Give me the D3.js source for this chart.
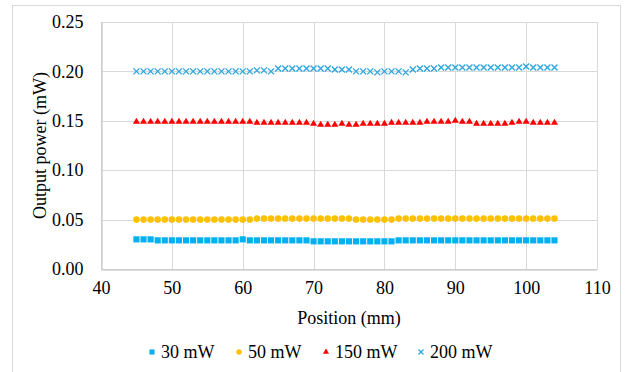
<!DOCTYPE html>
<html>
<head>
  <meta charset="utf-8">
  <script src="https://d3js.org/d3.v7.min.js"></script>
  <style>
    body { margin: 0; background: #fff; }
    svg { font-family: "Liberation Serif", "Times New Roman", serif; }
  </style>
</head>
<body>
<script>
  // positions along the fibre (mm)
  var positions = [45,46,47,48,49,50,51,52,53,54,55,56,57,58,59,60,61,62,63,64,
                   65,66,67,68,69,70,71,72,73,74,75,76,77,78,79,80,81,82,83,84,
                   85,86,87,88,89,90,91,92,93,94,95,96,97,98,99,100,101,102,103,104];

  // output power (mW) for each input power
  var p30 = [0.030,0.030,0.030,0.029,0.029,0.029,0.029,0.029,0.029,0.029,
             0.029,0.029,0.029,0.029,0.029,0.030,0.029,0.029,0.029,0.029,
             0.029,0.029,0.029,0.029,0.029,0.028,0.028,0.028,0.028,0.028,
             0.028,0.028,0.028,0.028,0.028,0.028,0.028,0.029,0.029,0.029,
             0.029,0.029,0.029,0.029,0.029,0.029,0.029,0.029,0.029,0.029,
             0.029,0.029,0.029,0.029,0.029,0.029,0.029,0.029,0.029,0.029];
  var p50 = [0.050,0.050,0.050,0.050,0.050,0.050,0.050,0.050,0.050,0.050,
             0.050,0.050,0.050,0.050,0.050,0.050,0.050,0.051,0.051,0.051,
             0.051,0.051,0.051,0.051,0.051,0.051,0.051,0.051,0.051,0.051,
             0.051,0.050,0.050,0.050,0.050,0.050,0.050,0.051,0.051,0.051,
             0.051,0.051,0.051,0.051,0.051,0.051,0.051,0.051,0.051,0.051,
             0.051,0.051,0.051,0.051,0.051,0.051,0.051,0.051,0.051,0.051];
  var p150 = [0.149,0.149,0.149,0.149,0.149,0.149,0.149,0.149,0.149,0.149,
              0.149,0.149,0.149,0.149,0.149,0.149,0.149,0.148,0.148,0.148,
              0.148,0.148,0.148,0.148,0.148,0.147,0.146,0.146,0.146,0.147,
              0.146,0.146,0.147,0.147,0.147,0.147,0.148,0.148,0.148,0.148,
              0.148,0.149,0.149,0.149,0.149,0.150,0.149,0.149,0.147,0.147,
              0.147,0.147,0.147,0.148,0.149,0.149,0.148,0.148,0.148,0.148];
  var p200 = [0.200,0.200,0.200,0.200,0.200,0.200,0.200,0.200,0.200,0.200,
              0.200,0.200,0.200,0.200,0.200,0.200,0.200,0.201,0.201,0.200,
              0.203,0.203,0.203,0.203,0.203,0.203,0.203,0.203,0.202,0.202,
              0.202,0.200,0.200,0.200,0.199,0.200,0.200,0.200,0.199,0.202,
              0.203,0.203,0.203,0.204,0.204,0.204,0.204,0.204,0.204,0.204,
              0.204,0.204,0.204,0.204,0.204,0.205,0.204,0.204,0.204,0.204];

  var seriesNames = ["30 mW", "50 mW", "150 mW", "200 mW"];
  var xTicks = [40, 50, 60, 70, 80, 90, 100, 110];
  var yTicks = [0, 0.05, 0.10, 0.15, 0.20, 0.25];

  var width = 625, height = 372;
  var plotLeft = 101, plotRight = 597, plotTop = 22, plotBottom = 269;

  var svg = d3.select("body").append("svg")
      .attr("width", width)
      .attr("height", height);

  // chart frame
  svg.append("rect")
      .attr("x", 12.5).attr("y", 5.5)
      .attr("width", 608).attr("height", 380)
      .attr("fill", "none").attr("stroke", "#d9d9d9");

  var x = d3.scaleLinear().domain([40, 110]).range([plotLeft, plotRight]);
  var y = d3.scaleLinear().domain([0, 0.25]).range([plotBottom, plotTop]);

  // gridlines
  svg.append("g").selectAll("line").data(yTicks).enter().append("line")
      .attr("x1", plotLeft).attr("x2", plotRight)
      .attr("y1", function(d) { return Math.round(y(d)) + 0.5; })
      .attr("y2", function(d) { return Math.round(y(d)) + 0.5; })
      .attr("stroke", "#d9d9d9");
  svg.append("g").selectAll("line").data(xTicks).enter().append("line")
      .attr("y1", plotTop).attr("y2", plotBottom)
      .attr("x1", function(d) { return Math.round(x(d)) + 0.5; })
      .attr("x2", function(d) { return Math.round(x(d)) + 0.5; })
      .attr("stroke", "#d9d9d9");

  // axes
  var xAxis = svg.append("g")
      .attr("transform", "translate(0," + (Math.round(plotBottom) + 0.5) + ")")
      .call(d3.axisBottom(x).tickValues(xTicks).tickSize(0).tickPadding(12));
  var yAxis = svg.append("g")
      .attr("transform", "translate(" + (plotLeft + 0.5) + ",0)")
      .call(d3.axisLeft(y).tickValues(yTicks).tickSize(0).tickPadding(18)
        .tickFormat(d3.format(".2f")));
  [xAxis, yAxis].forEach(function(a) {
    a.select(".domain").attr("stroke", "#bfbfbf");
    a.selectAll("text").attr("font-size", 18).attr("fill", "#000")
      .attr("font-family", "Liberation Serif, Times New Roman, serif");
  });

  svg.append("text")
      .attr("x", (plotLeft + plotRight) / 2).attr("y", 324)
      .attr("text-anchor", "middle").attr("font-size", 18)
      .text("Position (mm)");
  svg.append("text")
      .attr("transform", "translate(46," + ((plotTop + plotBottom) / 2) + ") rotate(-90)")
      .attr("text-anchor", "middle").attr("font-size", 18)
      .text("Output power (mW)");

  // markers
  var colors = ["#00b0f0", "#ffc000", "#ff0000", "#2aa5df"];
  var shapes = [
    d3.symbol().type(d3.symbolSquare).size(38)(),
    d3.symbol().type(d3.symbolCircle).size(34)(),
    d3.symbol().type(d3.symbolTriangle).size(22)(),
    "M-3,-3L3,3M3,-3L-3,3"
  ];
  var legendShapes = [
    d3.symbol().type(d3.symbolSquare).size(26)(),
    d3.symbol().type(d3.symbolCircle).size(24)(),
    d3.symbol().type(d3.symbolTriangle).size(16)(),
    "M-2.5,-2.5L2.5,2.5M2.5,-2.5L-2.5,2.5"
  ];
  var allSeries = [p30, p50, p150, p200];

  function styleMark(sel, i) {
    if (i === 3) sel.attr("fill", "none").attr("stroke", colors[i]).attr("stroke-width", 1.3);
    else sel.attr("fill", colors[i]);
  }

  allSeries.forEach(function(vals, i) {
    var g = svg.append("g");
    var pts = g.selectAll("path").data(vals).enter().append("path")
        .attr("d", shapes[i])
        .attr("transform", function(d, j) {
          return "translate(" + x(positions[j]) + "," + y(d) + ")";
        });
    styleMark(pts, i);
  });

  // legend
  var legendX = [152, 239, 326, 421];
  var legend = svg.append("g");
  seriesNames.forEach(function(name, i) {
    var m = legend.append("path")
        .attr("d", legendShapes[i])
        .attr("transform", "translate(" + legendX[i] + ",352)");
    styleMark(m, i);
    legend.append("text")
        .attr("x", legendX[i] + 9).attr("y", 358)
        .attr("font-size", 18)
        .text(name);
  });
</script>
</body>
</html>
